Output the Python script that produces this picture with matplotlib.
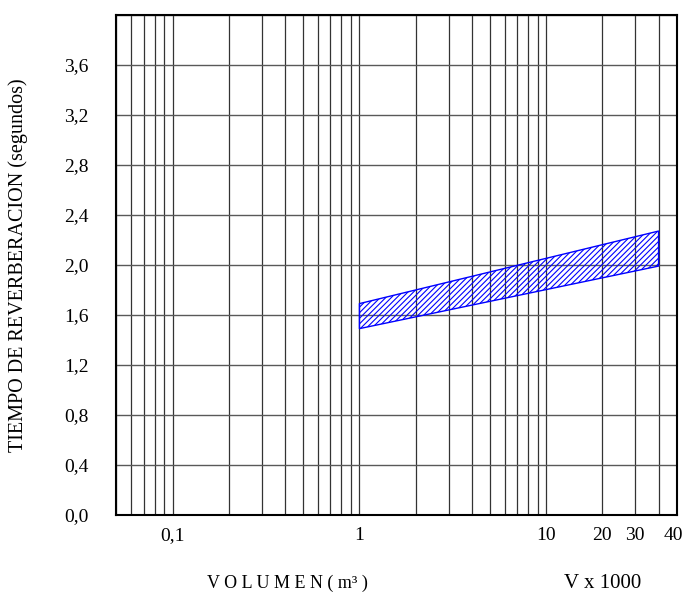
import matplotlib
matplotlib.use("Agg")
import matplotlib.pyplot as plt
import matplotlib.transforms as mtransforms
from matplotlib.ticker import LogLocator, NullFormatter

# volumen (x 1000 m3) y tiempo de reverberacion (s)
volumen = [1, 40]
t_inferior = [1.49, 1.99]
t_superior = [1.69, 2.27]

x_ticks = [0.1, 1, 10, 20, 30, 40]
x_labels = ["0,1", "1", "10", "20", "30", "40"]
y_ticks = [0.0, 0.4, 0.8, 1.2, 1.6, 2.0, 2.4, 2.8, 3.2, 3.6]
y_labels = ["0,0", "0,4", "0,8", "1,2", "1,6", "2,0", "2,4", "2,8", "3,2", "3,6"]

plt.rcParams['font.family'] = ['Liberation Serif', 'DejaVu Serif']
plt.rcParams['hatch.color'] = 'blue'
plt.rcParams['hatch.linewidth'] = 0.8

fig = plt.figure(figsize=(6.86, 5.94), dpi=100)
ax = fig.add_axes([0.1698, 0.1330, 0.8166, 0.8423])

ax.set_xscale('log')
ax.set_xlim(0.05, 50)
ax.set_ylim(0, 4.0)

ax.fill_between(volumen, t_inferior, t_superior, facecolor='none',
                edgecolor='blue', hatch='//////', linewidth=1.0, zorder=3)

ax.set_xticks(x_ticks)
ax.set_xticklabels(x_labels, fontsize=14)
ax.xaxis.set_minor_locator(LogLocator(base=10, subs=range(2, 10), numticks=20))
ax.xaxis.set_minor_formatter(NullFormatter())
ax.set_yticks(y_ticks + [4.0])
ax.set_yticklabels(y_labels + [""], fontsize=14)
ax.tick_params(axis='both', which='both', length=0)
ax.tick_params(axis='x', pad=9)
ax.tick_params(axis='y', pad=20)

ax.grid(True, which='both', axis='x', color='0.2', linewidth=0.9)
ax.grid(True, which='major', axis='y', color='0.35', linewidth=1.0)
for s in ax.spines.values():
    s.set_linewidth(1.5)
    s.set_color('black')

# la etiqueta "40" va en el borde derecho
lbl = ax.get_xticklabels()[-1]
lbl.set_transform(lbl.get_transform() + mtransforms.ScaledTranslation(0.15, 0, fig.dpi_scale_trans))

fig.text(18 / 686, 1 - 265 / 594, "TIEMPO DE REVERBERACION (segundos)", rotation=90,
         ha='center', va='center', fontsize=14.5)
fig.text(287 / 686, 1 - 583 / 594, "V O L U M E N ( m³ )", ha='center', va='center', fontsize=13)
fig.text(603 / 686, 1 - 583 / 594, "V x 1000", ha='center', va='center', fontsize=15)

fig.savefig("out.png", dpi=100)
